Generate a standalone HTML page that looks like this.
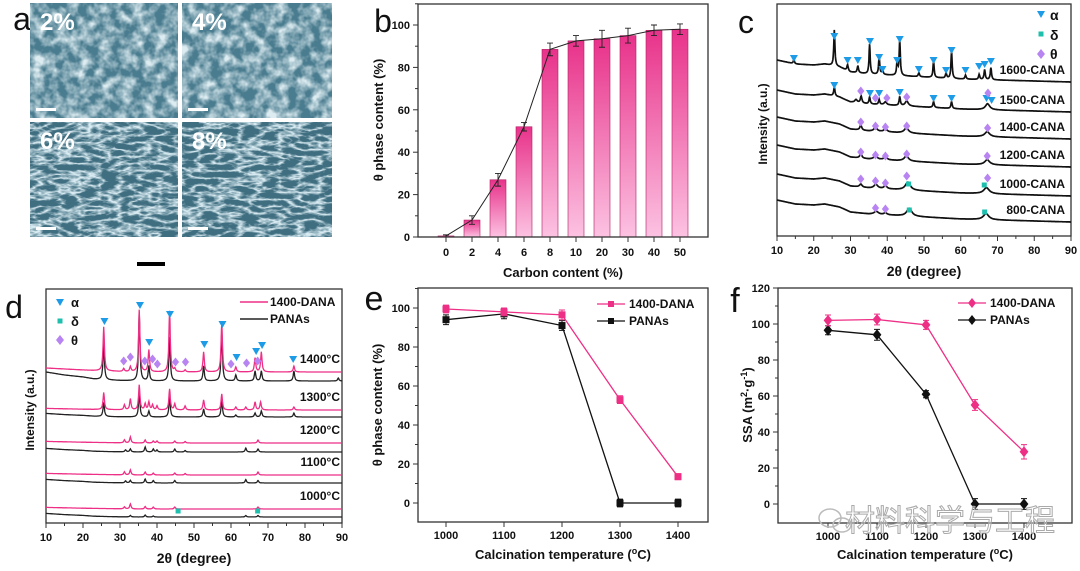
<!DOCTYPE html>
<html><head><meta charset="utf-8">
<style>
html,body{margin:0;padding:0;background:#fff;}
svg{display:block;font-family:"Liberation Sans","Noto Sans CJK SC",sans-serif;}
</style></head>
<body>
<svg id="fig" width="1080" height="571" viewBox="0 0 1080 571" xmlns="http://www.w3.org/2000/svg">
<defs>
<filter id="sem" x="0" y="0" width="100%" height="100%">
<feTurbulence type="fractalNoise" baseFrequency="0.09" numOctaves="3" seed="3"/>
<feColorMatrix type="matrix" values="0 0 0 0 0.72  0 0 0 0 0.84  0 0 0 0 0.88  0 0 0 -2.2 1.45"/>
</filter>
<filter id="sem2" x="0" y="0" width="100%" height="100%">
<feTurbulence type="turbulence" baseFrequency="0.05 0.14" numOctaves="3" seed="7"/>
<feColorMatrix type="matrix" values="0 0 0 0 0.70  0 0 0 0 0.84  0 0 0 0 0.9  0 0 0 -3 1.2"/>
</filter>
<linearGradient id="barg" x1="0" y1="0" x2="0" y2="1">
<stop offset="0" stop-color="#e8328a"/><stop offset="1" stop-color="#fcc2e2"/>
</linearGradient>
</defs>
<g id="root"></g>
</svg>
<script>
// ---------- Panel b data ----------
const bCats = ['0','2','4','6','8','10','20','30','40','50'];
const bVals = [0.5, 8, 27, 52, 88.5, 92.5, 93.5, 95, 97.5, 98];
const bErr = [0.5, 2, 3, 2, 3, 2.5, 4, 3.5, 2.5, 2.5];
const bTicks = [0, 20, 40, 60, 80, 100];
// ---------- Panel e data ----------
const eTemps = [1000, 1100, 1200, 1300, 1400];
const eDana = [99.5, 98, 96.5, 53, 13.5];
const ePanas = [94, 97, 91, 0, 0];
const eErrD = [2, 2, 2.5, 2, 1.5];
const eErrP = [2.5, 2.5, 2.5, 2, 2];
const eYTicks = [0, 20, 40, 60, 80, 100];
// ---------- Panel f data ----------
const fTemps = [1000, 1100, 1200, 1300, 1400];
const fDana = [102, 102.5, 99.5, 55, 29];
const fPanas = [96.5, 94, 61, 0, 0];
const fErrD = [3, 3, 2.5, 3, 4];
const fErrP = [2.5, 3, 2, 3, 3];
const fYTicks = [0, 20, 40, 60, 80, 100, 120];
// ---------- Panel c XRD data (peak position, height px, width deg) ----------
const cBgX = [10, 15, 20, 23, 27, 30, 35, 40, 50, 60, 70, 80, 90];
const cBgOff = [22, 18, 17, 18, 15, 10, 8, 7, 5, 3, 2, 1, 0];
const cNames = ['1600-CANA', '1500-CANA', '1400-CANA', '1200-CANA', '1000-CANA', '800-CANA'];
const cBase = [82, 112, 139, 167, 196, 222];
const cPeaks = [
 [[14.6,4,0.2],[25.6,36,0.18],[29.2,6,0.2],[32,7,0.2],[35.2,30,0.18],[37.8,18,0.18],[38.7,5,0.2],[42.7,14,0.18],[43.4,36,0.18],[48.6,4,0.2],[52.6,17,0.18],[56,5,0.2],[57.5,28,0.18],[61.3,4,0.2],[65,5,0.2],[66.5,10,0.2],[68.2,12,0.2]],
 [[25.6,9,0.2],[31.5,3,0.4],[32.9,7,0.25],[35.2,7,0.2],[37.8,5,0.2],[39.5,3,0.4],[43.4,9,0.2],[45.3,5,0.5],[52.6,6,0.2],[57.5,7,0.2],[67.3,6,0.7]],
 [[32.8,5,0.3],[36.8,4,0.5],[39.5,3,0.5],[45.2,5,0.7],[67.2,5,0.8]],
 [[32.8,5,0.3],[36.8,4,0.5],[39.5,3,0.5],[45.2,5,0.7],[67.2,5,0.8]],
 [[32.8,3,0.4],[36.9,4,0.6],[39.5,3,0.5],[45.6,8,0.8],[67,6,0.9]],
 [[37,3,0.7],[39.5,2,0.5],[46,8,0.8],[66.9,6,0.9]]
];
const cTri = [[14.6,59],[25.6,37],[29.2,61],[32,61],[35.3,42],[37.8,58],[38.7,70],[42.7,61],[43.4,40],[48.6,70],[52.6,61],[56,71],[57.5,51],[61.3,71],[65,67],[66.5,65],[68.2,62],
 [25.6,86],[35.3,94],[37.8,94],[43.4,93],[52.6,99],[57.5,99],[67,99],[68.4,101]];
const cDia = [[32.8,91],[36.8,98],[39.9,98],[45.3,97],[67.4,93],[32.8,122],[36.8,126],[39.5,127],[45.3,126],[67.3,128],
 [32.8,152],[36.8,155],[39.5,156],[45.3,154],[67.2,156],[32.8,179],[36.8,181],[39.5,183],[45.3,176],[67.3,178],[36.8,208],[39.5,209]];
const cSq = [[45.8,184],[66.4,185],[46,210],[66.5,212]];
// ---------- Panel d XRD data ----------
const dTemps = ['1400°C', '1300°C', '1200°C', '1100°C', '1000°C'];
const dBasePink = [372, 410, 443, 475, 509];
const dBaseBlack = [381, 417, 452, 483, 517];
const dPink = [
 [[25.6,44],[31,3],[32.8,5],[35.2,62],[37.8,22],[43.4,61],[44.8,3],[47.6,2],[52.6,20],[57.5,50],[61.3,5],[66.5,14],[68.2,20],[77,6]],
 [[25.6,17],[31.2,5],[32.8,11],[35.2,25],[36.8,6],[37.8,8],[38.8,5],[40,4],[43.4,21],[44.8,6],[47.6,4],[52.6,10],[57.5,16],[61.3,3],[64,3],[66.5,8],[68,8],[77,3]],
 [[31.2,3],[32.8,6],[36.8,3],[39,2],[40,2],[44.8,2],[47.6,1.5],[67.3,3]],
 [[31.2,3],[32.8,5],[36.8,3],[39,2],[44.8,2],[47.6,1.5],[67.3,3]],
 [[31.2,2],[32.8,5],[36.8,2.5],[39,2],[44.8,2],[67.3,2]]
];
const dBlack = [
 [[25.6,36],[35.2,69],[37.8,15],[43.4,44],[52.6,15],[57.5,50],[61.3,6],[66.5,10],[68.2,10],[77,10],[89,3]],
 [[25.6,14],[35.2,25],[37.8,6],[43.4,20],[52.6,8],[57.5,17],[61.3,2],[66.5,4],[68.2,6],[77,4]],
 [[31.5,2],[32.8,3],[36.8,5],[39,3],[40,2],[44.8,3],[47.6,1.5],[64,4],[67.3,3]],
 [[31.5,2],[32.8,2.5],[36.8,4],[39,2.5],[44.8,2.5],[64,3.5],[67.3,2.5]],
 [[32.8,1.5],[36.8,2],[39,1],[64,1.5],[67.3,1.5]]
];
const dTri = [[25.8,322],[35.4,306],[37.9,343],[43.5,315],[52.8,345],[57.7,325],[61.5,358],[66.8,352],[68.4,346],[76.8,360]];
const dDia = [[31,361],[32.8,357],[36.7,361],[38.8,359],[40.1,364],[45,362],[47.7,362],[60,364],[64.2,363],[67.2,361]];
const dSq = [[45.7,511],[67.2,511]];

const NS = 'http://www.w3.org/2000/svg';
const root = document.getElementById('root');
function mk(tag, attrs, parent, name) {
  const e = document.createElementNS(NS, tag);
  for (const k in attrs) e.setAttribute(k, attrs[k]);
  
  
  (parent || root).appendChild(e);
  return e;
}
function txt(s, x, y, size, parent, name, opts) {
  opts = opts || {};
  const t = mk('text', {x: x, y: y, 'font-size': size, 'font-weight': opts.w || 'bold', 'text-anchor': opts.a || 'middle', fill: opts.fill || '#111'}, parent, name);
  if (opts.rot) t.setAttribute('transform', 'rotate(-90 ' + x + ' ' + y + ')');
  t.textContent = s;
  return t;
}
function lin(d0, d1, r0, r1) { return v => r0 + (v - d0) * (r1 - r0) / (d1 - d0); }
function frame(g, L, R, T, B, name) {
  mk('rect', {x: L, y: T, width: R - L, height: B - T, fill: 'none', stroke: '#333', 'stroke-width': 1.3}, g, name);
}
function tri(g, x, y, c, name) { mk('path', {d: `M${x-4},${y-4}L${x+4},${y-4}L${x},${y+3}Z`, fill: c}, g, name); }
function dia(g, x, y, c, r, name) { mk('path', {d: `M${x},${y-r}L${x+r*0.8},${y}L${x},${y+r}L${x-r*0.8},${y}Z`, fill: c}, g, name); }
function sq(g, x, y, c, s, name) { mk('rect', {x: x - s/2, y: y - s/2, width: s, height: s, fill: c}, g, name); }
const AL = '#1d9be6', DE = '#1fbfae', TH = '#b784f2', PK = '#ee2f86';

// ---------- Panel a: SEM ----------
const ga = mk('g', {}, root, 'panel-a-sem-images');
txt('a', 22, 30, 32, ga, 'panel-a-label', {w: 'normal'});
const semBoxes = [[30,3,148,115,'2%'],[182,3,150,115,'4%'],[30,122,148,115,'6%'],[182,122,150,115,'8%']];
semBoxes.forEach((b, i) => {
  mk('rect', {x: b[0], y: b[1], width: b[2], height: b[3], fill: i < 2 ? '#4a7c8f' : '#3f6e80'}, ga, 'sem-image-bg');
  mk('rect', {x: b[0], y: b[1], width: b[2], height: b[3], filter: i < 2 ? 'url(#sem)' : 'url(#sem2)'}, ga, 'sem-image-texture');
  txt(b[4], b[0] + 10, b[1] + 27, 24, ga, 'sem-label', {a: 'start', fill: '#fff'});
  mk('rect', {x: b[0] + 6, y: b[1] + b[3] - 10, width: 20, height: 3, fill: '#fff'}, ga, 'sem-scale-bar');
});
mk('rect', {x: 137, y: 262, width: 28, height: 4, fill: '#000'}, ga, 'scale-bar');

// ---------- Panel b ----------
(function(){
  const g = mk('g', {}, root, 'panel-b-bar-chart');
  const L = 418, R = 708, T = 4, B = 237;
  const y = lin(0, 100, 237, 25);
  const x = i => 446 + 26 * i;
  txt('b', 383, 32, 32, g, 'panel-b-label', {w: 'normal'});
  bVals.forEach((v, i) => {
    mk('rect', {x: x(i) - 8, y: y(v), width: 16, height: B - y(v), fill: 'url(#barg)', stroke: '#b01e62', 'stroke-width': 0.6}, g, 'bar-' + bCats[i]);
  });
  let d = '';
  bVals.forEach((v, i) => { d += (i ? 'L' : 'M') + x(i) + ',' + y(v); });
  mk('path', {d: d, fill: 'none', stroke: '#222', 'stroke-width': 1}, g, 'trend-line');
  bVals.forEach((v, i) => {
    const a = y(v + bErr[i]), b2 = y(v - bErr[i]);
    mk('path', {d: `M${x(i)},${a}V${b2}M${x(i)-3},${a}H${x(i)+3}M${x(i)-3},${b2}H${x(i)+3}`, stroke: '#222', 'stroke-width': 0.9, fill: 'none'}, g, 'error-bar');
  });
  frame(g, L, R, T, B, 'plot-frame');
  bTicks.forEach(t => {
    mk('line', {x1: L - 5, x2: L, y1: y(t), y2: y(t), stroke: '#333'}, g, 'y-tick');
    mk('line', {x1: L - 3, x2: L, y1: y(t + 10), y2: y(t + 10), stroke: '#333'}, g, 'y-minor-tick');
    txt(String(t), L - 8, y(t) + 4, 11, g, 'y-tick-label', {a: 'end'});
  });
  bCats.forEach((c, i) => {
    mk('line', {x1: x(i), x2: x(i), y1: B, y2: B + 5, stroke: '#333'}, g, 'x-tick');
    txt(c, x(i), 256, 11, g, 'x-tick-label');
  });
  txt('Carbon content (%)', 563, 277, 13, g, 'x-axis-title');
  txt('θ phase content (%)', 383, 120, 13, g, 'y-axis-title', {rot: true});
})();

// XRD helpers
function profile(bgX, bgOff, bgScale, peaks, defW) {
  const pts = [];
  for (let t = 10; t <= 90.001; t += 0.1) {
    let k = 0; while (k < bgX.length - 2 && t > bgX[k + 1]) k++;
    const f = (t - bgX[k]) / (bgX[k + 1] - bgX[k]);
    let v = (bgOff[k] + (bgOff[k + 1] - bgOff[k]) * f) * bgScale;
    peaks.forEach(p => { const w = p[2] || defW; const z = (t - p[0]) / w; v += p[1] / (1 + z * z); });
    pts.push([t, v]);
  }
  return pts;
}
function xrdAxes(g, L, R, T, B, yLbl) {
  frame(g, L, R, T, B, 'plot-frame');
  const x = lin(10, 90, L, R);
  for (let t = 10; t <= 90; t += 10) {
    mk('line', {x1: x(t), x2: x(t), y1: B, y2: B + 5, stroke: '#333'}, g, 'x-tick');
    if (t < 90) mk('line', {x1: x(t + 5), x2: x(t + 5), y1: B, y2: B + 3, stroke: '#333'}, g, 'x-minor-tick');
    txt(String(t), x(t), B + 18, 11, g, 'x-tick-label');
  }
  txt('2θ (degree)', (L + R) / 2, B + 40, 14, g, 'x-axis-title');
  txt('Intensity (a.u.)', yLbl, (T + B) / 2 + 4, 12, g, 'y-axis-title', {rot: true});
  return x;
}

// ---------- Panel c ----------
(function(){
  const g = mk('g', {}, root, 'panel-c-xrd');
  const L = 777, R = 1071, T = 4, B = 236;
  const x = xrdAxes(g, L, R, T, B, 767);
  txt('c', 746, 33, 32, g, 'panel-c-label', {w: 'normal'});
  cNames.forEach((n, i) => {
    const pts = profile(cBgX, cBgOff, 1, cPeaks[i], 0.3);
    const d = pts.map((p, j) => (j ? 'L' : 'M') + x(p[0]).toFixed(1) + ',' + (cBase[i] - p[1]).toFixed(1)).join('');
    mk('path', {d: d, fill: 'none', stroke: '#111', 'stroke-width': 1.7}, g, 'xrd-trace-' + n);
    txt(n, 1065, cBase[i] - 8, 12, g, 'trace-label', {a: 'end'});
  });
  cTri.forEach(p => tri(g, x(p[0]), p[1], AL, 'alpha-marker'));
  cDia.forEach(p => dia(g, x(p[0]), p[1], TH, 4.5, 'theta-marker'));
  cSq.forEach(p => sq(g, x(p[0]), p[1], DE, 5, 'delta-marker'));
  tri(g, 1041, 15, AL, 'legend-alpha-symbol'); txt('α', 1050, 20, 14, g, 'legend-alpha', {a: 'start'});
  sq(g, 1041, 34, DE, 5, 'legend-delta-symbol'); txt('δ', 1050, 40, 14, g, 'legend-delta', {a: 'start'});
  dia(g, 1041, 54, TH, 5, 'legend-theta-symbol'); txt('θ', 1050, 59, 14, g, 'legend-theta', {a: 'start'});
})();

// ---------- Panel d ----------
(function(){
  const g = mk('g', {}, root, 'panel-d-xrd');
  const L = 46, R = 342, T = 289, B = 523;
  const x = xrdAxes(g, L, R, T, B, 34);
  txt('d', 14, 318, 32, g, 'panel-d-label', {w: 'normal'});
  const bgOffP = [4, 3, 2, 1.5, 1, 0.5, 0, 0, 0, 0, 0, 0, 0];
  const bgOffB = [9, 6, 4, 2, 1, 0.5, 0, 0, 0, 0, 0, 0, 0];
  dTemps.forEach((n, i) => {
    const s = i === 0 ? 1 : 0.4;
    const pb = profile(cBgX, bgOffB, s, dBlack[i], 0.22);
    mk('path', {d: pb.map((p, j) => (j ? 'L' : 'M') + x(p[0]).toFixed(1) + ',' + (dBaseBlack[i] - p[1]).toFixed(1)).join(''), fill: 'none', stroke: '#222', 'stroke-width': 1.3}, g, 'panas-trace-' + n);
    const pp = profile(cBgX, bgOffP, s, dPink[i], 0.22);
    mk('path', {d: pp.map((p, j) => (j ? 'L' : 'M') + x(p[0]).toFixed(1) + ',' + (dBasePink[i] - p[1]).toFixed(1)).join(''), fill: 'none', stroke: PK, 'stroke-width': 1.3}, g, 'dana-trace-' + n);
    txt(n, 340, dBasePink[i] - 9, 12, g, 'temperature-label', {a: 'end'});
  });
  dTri.forEach(p => tri(g, x(p[0]), p[1], AL, 'alpha-marker'));
  dDia.forEach(p => dia(g, x(p[0]), p[1], TH, 4.5, 'theta-marker'));
  dSq.forEach(p => sq(g, x(p[0]), p[1], DE, 5, 'delta-marker'));
  tri(g, 60, 303, AL, 'legend-alpha-symbol'); txt('α', 71, 307, 13, g, 'legend-alpha', {a: 'start'});
  sq(g, 60, 321, DE, 5, 'legend-delta-symbol'); txt('δ', 71, 326, 13, g, 'legend-delta', {a: 'start'});
  dia(g, 60, 340, TH, 5, 'legend-theta-symbol'); txt('θ', 71, 345, 13, g, 'legend-theta', {a: 'start'});
  mk('line', {x1: 240, x2: 268, y1: 302, y2: 302, stroke: PK, 'stroke-width': 1.5}, g, 'legend-dana-line');
  txt('1400-DANA', 270, 306, 12, g, 'legend-dana', {a: 'start'});
  mk('line', {x1: 240, x2: 268, y1: 319, y2: 319, stroke: '#222', 'stroke-width': 1.5}, g, 'legend-panas-line');
  txt('PANAs', 270, 323, 12, g, 'legend-panas', {a: 'start'});
})();

// ---------- Line panels e & f ----------
function linePanel(cfg) {
  const g = mk('g', {}, root, cfg.name);
  const x = lin(1000, 1400, cfg.x0, cfg.x1);
  const y = lin(0, cfg.yRef, cfg.y0, cfg.yRefPx);
  txt(cfg.letter, cfg.lx, cfg.ly, 34, g, cfg.name + '-label', {w: 'normal'});
  frame(g, cfg.L, cfg.R, cfg.T, cfg.B, 'plot-frame');
  cfg.yTicks.forEach(t => {
    mk('line', {x1: cfg.L - 5, x2: cfg.L, y1: y(t), y2: y(t), stroke: '#333'}, g, 'y-tick');
    if (y(t + 10) > cfg.T) mk('line', {x1: cfg.L - 3, x2: cfg.L, y1: y(t + 10), y2: y(t + 10), stroke: '#333'}, g, 'y-minor-tick');
    txt(String(t), cfg.L - 8, y(t) + 4, 11, g, 'y-tick-label', {a: 'end'});
  });
  cfg.temps.forEach(t => {
    mk('line', {x1: x(t), x2: x(t), y1: cfg.B, y2: cfg.B + 5, stroke: '#333'}, g, 'x-tick');
    txt(String(t), x(t), cfg.B + 17, 11, g, 'x-tick-label');
  });
  [[cfg.panas, cfg.errP, '#111', 'panas'], [cfg.dana, cfg.errD, PK, 'dana']].forEach(s => {
    mk('path', {d: s[0].map((v, i) => (i ? 'L' : 'M') + x(cfg.temps[i]) + ',' + y(v)).join(''), fill: 'none', stroke: s[2], 'stroke-width': 1.3}, g, s[3] + '-line');
    s[0].forEach((v, i) => {
      const px = x(cfg.temps[i]), a = y(v + s[1][i]), b = y(v - s[1][i]);
      mk('path', {d: `M${px},${a}V${b}M${px-3},${a}H${px+3}M${px-3},${b}H${px+3}`, stroke: s[2], fill: 'none'}, g, s[3] + '-error-bar');
      if (cfg.marker === 'sq') sq(g, px, y(v), s[2], 7, s[3] + '-point');
      else dia(g, px, y(v), s[2], 5.5, s[3] + '-point');
    });
  });
  const lx = cfg.legX;
  mk('line', {x1: lx, x2: lx + 28, y1: cfg.legY, y2: cfg.legY, stroke: PK, 'stroke-width': 1.3}, g, 'legend-dana-line');
  if (cfg.marker === 'sq') sq(g, lx + 14, cfg.legY, PK, 6, 'legend-dana-marker'); else dia(g, lx + 14, cfg.legY, PK, 5, 'legend-dana-marker');
  txt('1400-DANA', lx + 32, cfg.legY + 4, 12, g, 'legend-dana', {a: 'start'});
  mk('line', {x1: lx, x2: lx + 28, y1: cfg.legY + 17, y2: cfg.legY + 17, stroke: '#111', 'stroke-width': 1.3}, g, 'legend-panas-line');
  if (cfg.marker === 'sq') sq(g, lx + 14, cfg.legY + 17, '#111', 6, 'legend-panas-marker'); else dia(g, lx + 14, cfg.legY + 17, '#111', 5, 'legend-panas-marker');
  txt('PANAs', lx + 32, cfg.legY + 21, 12, g, 'legend-panas', {a: 'start'});
  const xt = txt('Calcination temperature (', (cfg.L + cfg.R) / 2, 559, 13, g, 'x-axis-title');
  const sup = document.createElementNS(NS, 'tspan'); sup.setAttribute('baseline-shift', 'super'); sup.setAttribute('font-size', '9'); sup.textContent = 'o';
  xt.appendChild(sup); xt.appendChild(document.createTextNode('C)'));
  return g;
}
linePanel({name: 'panel-e', letter: 'e', lx: 374, ly: 310, L: 418, R: 708, T: 288, B: 522, x0: 446, x1: 678, y0: 503, yRef: 100, yRefPx: 308,
  yTicks: eYTicks, temps: eTemps, dana: eDana, panas: ePanas, errD: eErrD, errP: eErrP, marker: 'sq', legX: 597, legY: 304});
linePanel({name: 'panel-f', letter: 'f', lx: 735, ly: 312, L: 778, R: 1072, T: 288, B: 523, x0: 828, x1: 1024, y0: 504, yRef: 120, yRefPx: 288,
  yTicks: fYTicks, temps: fTemps, dana: fDana, panas: fPanas, errD: fErrD, errP: fErrP, marker: 'dia', legX: 958, legY: 303});
txt('θ phase content (%)', 382, 405, 13, root, 'e-y-axis-title', {rot: true});
const fy = txt('SSA (m', 752, 405, 13, root, 'f-y-axis-title', {rot: true});
const s1 = document.createElementNS(NS, 'tspan'); s1.setAttribute('baseline-shift', 'super'); s1.setAttribute('font-size', '9'); s1.textContent = '2';
fy.appendChild(s1); fy.appendChild(document.createTextNode('·g'));
const s2 = document.createElementNS(NS, 'tspan'); s2.setAttribute('baseline-shift', 'super'); s2.setAttribute('font-size', '9'); s2.textContent = '-1';
fy.appendChild(s2); fy.appendChild(document.createTextNode(')'));
// watermark
mk('ellipse', {cx: 830, cy: 518, rx: 11, ry: 9, fill: 'none', stroke: '#bbb', 'stroke-width': 1.5}, root, 'watermark-icon');
mk('ellipse', {cx: 842, cy: 525, rx: 9, ry: 7, fill: 'none', stroke: '#bbb', 'stroke-width': 1.5}, root, 'watermark-icon-2');
const wm = txt('材料科学与工程', 950, 531, 30, root, 'watermark-text', {w: 'normal', fill: 'rgba(255,255,255,0.3)'});
wm.setAttribute('stroke', '#aaa');
wm.setAttribute('stroke-width', '1');
</script>
</body></html>
